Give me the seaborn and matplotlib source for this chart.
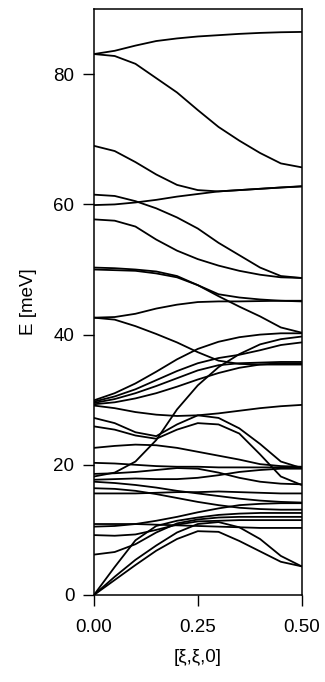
import numpy as np
import pandas as pd
import matplotlib
matplotlib.use("Agg")
import matplotlib.pyplot as plt
import seaborn as sns

# Reduced wave vector along [xi, xi, 0]
xi = [0.00, 0.05, 0.10, 0.15, 0.20, 0.25, 0.30, 0.35, 0.40, 0.45, 0.50]

# Phonon branch energies (meV) at each xi
top_up      = [83.1, 83.6, 84.4, 85.1, 85.5, 85.8, 86.0, 86.2, 86.35, 86.45, 86.5]
top_down    = [83.1, 82.8, 81.6, 79.4, 77.2, 74.5, 71.9, 69.8, 67.9, 66.3, 65.7]
b69         = [69.0, 68.2, 66.5, 64.6, 63.0, 62.2, 62.0, 62.2, 62.4, 62.6, 62.8]
b60         = [59.9, 60.0, 60.3, 60.7, 61.2, 61.6, 62.0, 62.2, 62.4, 62.6, 62.75]
b61         = [61.5, 61.3, 60.5, 59.4, 58.0, 56.3, 54.1, 52.2, 50.3, 49.0, 48.7]
b57         = [57.7, 57.5, 56.6, 54.6, 52.9, 51.6, 50.6, 49.8, 49.2, 48.8, 48.7]
b50a        = [50.3, 50.2, 50.0, 49.7, 49.0, 47.6, 45.9, 44.3, 42.8, 41.1, 40.3]
b50b        = [50.0, 49.9, 49.8, 49.4, 48.8, 47.6, 46.2, 45.7, 45.4, 45.2, 45.1]
b42_up      = [42.6, 42.7, 43.2, 44.0, 44.6, 45.0, 45.1, 45.1, 45.15, 45.2, 45.2]
b42_down    = [42.6, 42.3, 41.3, 40.1, 38.8, 37.3, 36.0, 35.5, 35.4, 35.4, 35.4]
g1          = [29.9, 31.0, 32.5, 34.3, 36.2, 37.8, 38.9, 39.6, 40.0, 40.2, 40.2]
g2          = [29.7, 30.5, 31.6, 33.0, 34.4, 35.6, 36.4, 36.9, 37.6, 38.4, 38.8]
g3          = [29.5, 30.1, 31.0, 32.1, 33.3, 34.5, 35.3, 35.6, 35.7, 35.8, 35.8]
g4          = [29.3, 29.6, 30.2, 31.0, 32.0, 33.1, 34.1, 34.9, 35.4, 35.6, 35.6]
g5          = [29.1, 28.7, 28.1, 27.7, 27.5, 27.6, 27.9, 28.3, 28.7, 29.0, 29.2]
steep       = [18.2, 18.8, 20.5, 23.8, 28.5, 32.2, 35.0, 37.0, 38.5, 39.3, 39.7]
hump1       = [27.2, 26.4, 25.0, 24.4, 26.2, 27.6, 27.2, 25.6, 23.2, 20.5, 19.5]
hump2       = [25.9, 25.4, 24.5, 24.0, 25.4, 26.4, 26.2, 24.8, 21.6, 18.2, 16.9]
b22         = [22.6, 22.9, 23.1, 23.0, 22.6, 22.0, 21.4, 20.8, 20.1, 19.8, 19.7]
b20         = [20.3, 20.2, 20.0, 19.8, 19.7, 19.7, 19.6, 19.6, 19.6, 19.6, 19.6]
b18_6       = [18.6, 18.7, 18.9, 19.2, 19.5, 19.4, 18.8, 18.0, 17.4, 17.1, 17.0]
b17_7       = [17.7, 17.8, 17.9, 17.8, 17.8, 18.0, 18.4, 18.9, 19.2, 19.4, 19.4]
b17_4       = [17.4, 17.2, 16.9, 16.5, 16.0, 15.6, 15.2, 14.8, 14.5, 14.3, 14.2]
b16_4       = [16.4, 16.3, 16.0, 15.5, 14.9, 14.3, 13.8, 13.4, 13.2, 13.1, 13.1]
b15_6       = [15.6, 15.6, 15.6, 15.7, 15.8, 15.8, 15.9, 15.8, 15.7, 15.6, 15.6]
b10_9       = [10.9, 10.9, 10.9, 10.8, 10.7, 10.6, 10.5, 10.4, 10.3, 10.3, 10.3]
b10_5       = [10.5, 10.6, 10.9, 11.4, 12.0, 12.7, 13.3, 13.8, 14.0, 14.1, 14.1]
b9_2        = [9.2, 9.1, 9.3, 10.0, 10.8, 11.3, 11.4, 11.5, 11.5, 11.5, 11.5]
b6_2        = [6.2, 6.6, 7.8, 9.6, 11.0, 11.6, 11.9, 12.0, 12.0, 12.0, 12.0]
la          = [0.0, 4.3, 8.4, 10.6, 11.4, 11.9, 12.3, 12.5, 12.6, 12.6, 12.6]
ta2         = [0.0, 2.8, 5.4, 7.6, 9.6, 10.9, 11.2, 10.4, 8.6, 6.0, 4.4]
ta1         = [0.0, 2.3, 4.6, 6.8, 8.6, 9.8, 9.7, 8.3, 6.7, 5.1, 4.4]

branches = {
    "top_up": top_up, "top_down": top_down, "b69": b69, "b60": b60,
    "b61": b61, "b57": b57, "b50a": b50a, "b50b": b50b,
    "b42_up": b42_up, "b42_down": b42_down, "g1": g1, "g2": g2,
    "g3": g3, "g4": g4, "g5": g5, "steep": steep, "hump1": hump1,
    "hump2": hump2, "b22": b22, "b20": b20, "b18_6": b18_6,
    "b17_7": b17_7, "b17_4": b17_4, "b16_4": b16_4, "b15_6": b15_6,
    "b10_9": b10_9, "b10_5": b10_5, "b9_2": b9_2, "b6_2": b6_2,
    "la": la, "ta2": ta2, "ta1": ta1,
}

x_ticks = [0.0, 0.25, 0.5]
x_tick_labels = ["0.00", "0.25", "0.50"]
y_ticks = [0, 20, 40, 60, 80]

df = pd.concat(
    [pd.DataFrame({"xi": xi, "E": vals, "branch": name}) for name, vals in branches.items()],
    ignore_index=True,
)

sns.set_theme(style="white")
plt.rcParams["font.family"] = ["Liberation Sans", "DejaVu Sans"]

fig = plt.figure(figsize=(3.25, 6.82), dpi=100)
ax = fig.add_axes([0.289, 0.1276, 0.639, 0.859])

sns.lineplot(data=df, x="xi", y="E", units="branch", estimator=None,
             color="black", linewidth=1.3, ax=ax, legend=False, sort=False)

ax.set_xlim(0, 0.5)
ax.set_ylim(0, 90)
ax.set_xticks(x_ticks)
ax.set_xticklabels(x_tick_labels)
ax.set_yticks(y_ticks)
ax.tick_params(axis="both", direction="out", length=8, width=1.0,
               colors="black", labelsize=13.5, left=True, bottom=True)
ax.tick_params(axis="y", pad=6)
ax.tick_params(axis="x", pad=9)
for side in ax.spines.values():
    side.set_color("black")
    side.set_linewidth(1.1)

ax.set_xlabel("[ξ,ξ,0]", fontsize=13.5, labelpad=10, color="black")
ax.set_ylabel("E [meV]", fontsize=13.5, labelpad=12, color="black")

fig.savefig("out.png", dpi=100, facecolor="white")
